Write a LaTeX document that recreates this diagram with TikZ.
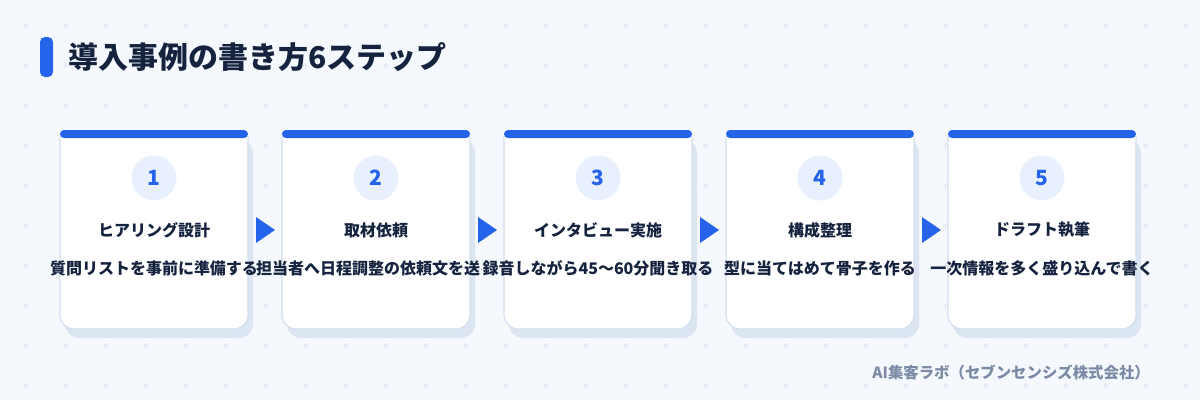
\documentclass[tikz,border=0pt]{standalone}
\usepackage{fontspec}
\setmainfont{Noto Sans CJK JP}
\usetikzlibrary{calc}
\definecolor{bgc}{HTML}{F5F8FD}
\definecolor{plusc}{HTML}{DCE3EE}
\definecolor{bluec}{HTML}{2563EB}
\definecolor{borderc}{HTML}{D4DFEE}
\definecolor{shadowc}{HTML}{DCE5F2}
\definecolor{circc}{HTML}{E8F0FD}
\definecolor{darkc}{HTML}{15233F}
\definecolor{grayc}{HTML}{7B8BA5}
\tikzset{
  numtext/.style={circle, fill=circc, minimum size=45pt, inner sep=0pt, text=bluec, font=\bfseries\fontsize{21}{24}\selectfont},
  ttltext/.style={inner sep=0pt, text=darkc, font=\bfseries\fontsize{16}{19}\selectfont},
  desctext/.style={inner sep=0pt, text=darkc, font=\bfseries\fontsize{16}{19}\selectfont},
  cardbody/.style={fill=white, draw=borderc, line width=1.2pt, rounded corners=14pt},
  cardshadow/.style={fill=shadowc, rounded corners=14pt},
  cardbar/.style={fill=bluec, rounded corners=4pt},
  arrowtri/.style={fill=bluec},
  plusmark/.style={draw=plusc, line width=0.7pt}
}
\begin{document}
\begin{tikzpicture}[x=1pt,y=-1pt]
\useasboundingbox (0,0) rectangle (1200,400);
\fill[bgc] (0,0) rectangle (1200,400);
\foreach \i in {0,...,29}{
  \foreach \jj in {0,...,9}{
    \draw[plusmark] ({25+40*\i-2.5},{25+40*\jj}) -- ++(5,0);
    \draw[plusmark] ({25+40*\i},{25+40*\jj-2.5}) -- ++(0,5);
  }
}
% title
\fill[bluec, rounded corners=5pt] (40,37) rectangle (53,77);
\node[anchor=west, inner sep=0pt, text=darkc, font=\bfseries\fontsize{30}{36}\selectfont] (title) at (68,57) {導入事例の書き方6ステップ};
% cards
\foreach \k/\num/\ttl/\desc in {
  0/1/ヒアリング設計/質問リストを事前に準備する,
  1/2/取材依頼/担当者へ日程調整の依頼文を送る,
  2/3/インタビュー実施/録音しながら45〜60分聞き取る,
  3/4/構成整理/型に当てはめて骨子を作る,
  4/5/ドラフト執筆/一次情報を多く盛り込んで書く}{
  \pgfmathsetmacro\xa{60+222*\k}
  \fill[cardshadow] ({\xa+5},139) rectangle ({\xa+193},338);
  \filldraw[cardbody] (\xa,136) -- (\xa,329) -- ({\xa+188},329) -- ({\xa+188},136);
  \fill[cardbar] (\xa,130) rectangle ({\xa+188},138);
  \node[numtext] (n\num) at ({\xa+94},178) {\num};
  \node[ttltext] (t\num) at ({\xa+94},230) {\ttl};
  \begin{scope}
    \ifnum\k=1 \clip (0,0) rectangle (481,400); \fi
    \node[desctext] (d\num) at ({\xa+94},268) {\desc};
  \end{scope}
}
% arrows
\foreach \k in {0,...,3}{
  \pgfmathsetmacro\xa{60+222*\k}
  \fill[arrowtri] ({\xa+196},217) -- ({\xa+196},243) -- ({\xa+215},230) -- cycle;
}
% footer
\node[anchor=east, inner sep=0pt, text=grayc, font=\bfseries\fontsize{15.4}{18}\selectfont] (footer) at (1150,373) {AI集客ラボ（セブンセンシズ株式会社）};
\end{tikzpicture}
\end{document}
